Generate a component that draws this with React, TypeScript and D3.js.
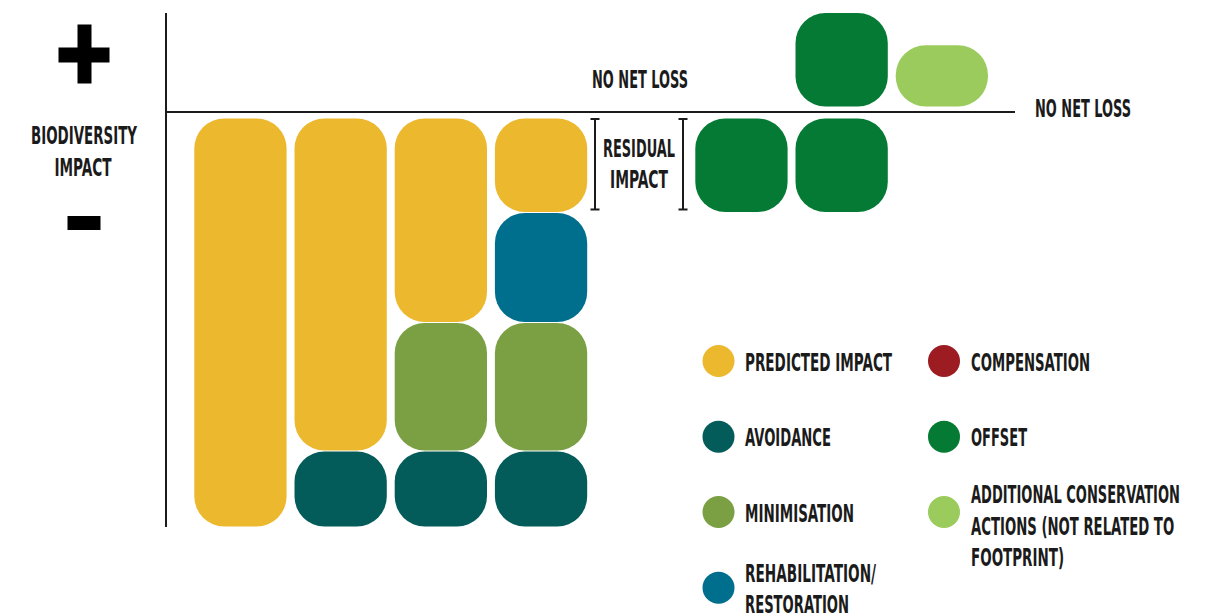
import React, { useLayoutEffect, useRef } from "react";
import * as d3 from "d3";

// ---------- DATA ----------
// Column stages (slot 4 is left empty for the residual-impact label)
const stages = ["Predicted", "Avoid", "Minimise", "Rehabilitate", "Offset", "Offset + gain", "Additional"];
const stageSlots = [0, 1, 2, 3, 5, 6, 7];

// negative side (below NO NET LOSS), stacked from the line downward
const predictedImpact = [10, 8.14, 5.0, 2.31, 0, 0, 0];
const rehabilitation = [0, 0, 0, 2.69, 0, 0, 0];
const minimisation = [0, 0, 3.14, 3.14, 0, 0, 0];
const avoidance = [0, 1.86, 1.86, 1.86, 0, 0, 0];
const offsetBelow = [0, 0, 0, 0, 2.31, 2.31, 0];
// positive side (above NO NET LOSS), stacked from the line upward
const offsetAbove = [0, 0, 0, 0, 0, 2.31, 0];
const additionalActions = [0, 0, 0, 0, 0, 0, 1.52];

const legendLabels = [
  ["PREDICTED IMPACT"],
  ["AVOIDANCE"],
  ["MINIMISATION"],
  ["REHABILITATION/", "RESTORATION"],
  ["COMPENSATION"],
  ["OFFSET"],
  ["ADDITIONAL CONSERVATION", "ACTIONS (NOT RELATED TO", "FOOTPRINT)"],
];
const legendKeys = ["predicted", "avoidance", "minimisation", "rehabilitation", "compensation", "offset", "additional"];

// ---------- STYLE / LAYOUT ----------
const colors: Record<string, string> = {
  predicted: "#ECB82E",
  avoidance: "#035B5A",
  minimisation: "#7BA043",
  rehabilitation: "#006F8E",
  compensation: "#9C1C21",
  offset: "#047A34",
  additional: "#9BCB5D",
};
const FONT = "'Liberation Sans Narrow', 'DejaVu Sans Condensed', 'Arial Narrow', sans-serif";
const INK = "#1b1b1b";

const legendLayout = [
  { x: 745, cx: 718.5, cy: 361, w: [147], dy: 9.7 },
  { x: 745, cx: 718.5, cy: 436.7, w: [86], dy: 9.7 },
  { x: 745, cx: 718.5, cy: 512, w: [109], dy: 9.7 },
  { x: 745, cx: 718.5, cy: 587.7, w: [131, 104], dy: -6.2 },
  { x: 971, cx: 944, cy: 361, w: [119], dy: 9.7 },
  { x: 971, cx: 944, cy: 436.7, w: [56], dy: 9.7 },
  { x: 971, cx: 944, cy: 512, w: [209, 203, 93], dy: -8.7 },
];
const LINE_H = 31.4;

function Label({ x, y, w, text, size = 25.5 }: { x: number; y: number; w: number; text: string; size?: number }) {
  const ref = useRef<SVGTextElement>(null);
  useLayoutEffect(() => {
    const el = ref.current;
    if (!el) return;
    const n = el.getComputedTextLength();
    const s = n > 0 ? w / n : 1;
    el.setAttribute("transform", `translate(${x},${y}) scale(${s},1)`);
  }, [x, y, w, text, size]);
  return (
    <text
      ref={ref}
      x={0}
      y={0}
      transform={`translate(${x},${y}) scale(0.7,1)`}
      fontFamily={FONT}
      fontWeight={700}
      fontSize={size}
      fill={INK}
    >
      {text}
    </text>
  );
}

export default function App() {
  const W = 1215;
  const H = 615;
  const zeroY = 112;

  const x = d3
    .scaleBand<number>()
    .domain(d3.range(8))
    .range([190.35, 190.35 + 8 * 100.2])
    .paddingInner(0.079)
    .paddingOuter(0.0395);

  const y = d3.scaleLinear().domain([-10, 0, 2.31]).range([521, zeroY, zeroY - 94.5]);
  const negGap = 6;
  const posGap = 5;

  type Block = { key: string; slot: number; y0: number; y1: number; color: string };
  const blocks: Block[] = [];
  const negSeries: [string, number[]][] = [
    ["predicted", predictedImpact],
    ["offset", offsetBelow],
    ["rehabilitation", rehabilitation],
    ["minimisation", minimisation],
    ["avoidance", avoidance],
  ];
  const posSeries: [string, number[]][] = [
    ["offset", offsetAbove],
    ["additional", additionalActions],
  ];
  stages.forEach((_, i) => {
    let acc = 0;
    negSeries.forEach(([k, vals]) => {
      const v = vals[i];
      if (!v) return;
      const top = y(-acc) + negGap;
      const bot = y(-(acc + v)) + negGap;
      blocks.push({ key: k, slot: stageSlots[i], y0: top, y1: bot, color: colors[k] });
      acc += v;
    });
    let accP = 0;
    posSeries.forEach(([k, vals]) => {
      const v = vals[i];
      if (!v) return;
      const bot = y(accP) - posGap;
      const top = y(accP + v) - posGap;
      blocks.push({ key: k, slot: stageSlots[i], y0: top, y1: bot, color: colors[k] });
      accP += v;
    });
  });

  const bw = x.bandwidth();
  const residualTop = y(0) + negGap + 1;
  const residualBot = y(-predictedImpact[3]) + negGap - 3;

  const bracket = (bx: number) => (
    <g stroke={INK} strokeWidth={2} fill="none">
      <line x1={bx} x2={bx} y1={residualTop} y2={residualBot} />
      <line x1={bx - 4.5} x2={bx + 4.5} y1={residualTop} y2={residualTop} />
      <line x1={bx - 4.5} x2={bx + 4.5} y1={residualBot} y2={residualBot} />
    </g>
  );

  return (
    <svg
      width={W}
      height={H}
      viewBox={`0 0 ${W} ${H}`}
      style={{ position: "absolute", left: 0, top: 0, background: "#fff" }}
    >
      {/* blocks */}
      {blocks.map((b, i) => {
        const h = b.y1 - b.y0 - 1;
        const rx = Math.min(30, h / 2);
        return (
          <rect
            key={i}
            x={x(b.slot)!}
            y={b.y0 + 0.5}
            width={bw}
            height={h}
            rx={rx}
            ry={rx}
            fill={b.color}
          />
        );
      })}

      {/* axes */}
      <line x1={166} x2={166} y1={13} y2={527} stroke={INK} strokeWidth={2} />
      <line x1={166} x2={1015} y1={zeroY} y2={zeroY} stroke={INK} strokeWidth={2} />

      {/* plus / minus */}
      <rect x={58.5} y={47.5} width={51} height={15} fill="#000" />
      <rect x={77.5} y={24.5} width={14} height={59} fill="#000" />
      <rect x={67.5} y={216} width={33} height={14} fill="#000" />

      {/* y label */}
      <Label x={31} y={144} w={106} text="BIODIVERSITY" />
      <Label x={54.5} y={175.7} w={57} text="IMPACT" />

      {/* no net loss labels */}
      <Label x={592} y={88} w={96} text="NO NET LOSS" />
      <Label x={1035} y={116.7} w={96} text="NO NET LOSS" />

      {/* residual impact */}
      {bracket(595)}
      {bracket(683)}
      <Label x={603} y={156.7} w={72} text="RESIDUAL" />
      <Label x={610} y={187.7} w={58} text="IMPACT" />

      {/* legend */}
      {legendKeys.map((k, i) => {
        const L = legendLayout[i];
        return (
          <g key={k}>
            <circle cx={L.cx} cy={L.cy} r={16} fill={colors[k]} />
            {legendLabels[i].map((t, j) => (
              <Label key={j} x={L.x} y={L.cy + L.dy + j * LINE_H} w={L.w[j]} text={t} size={24.5} />
            ))}
          </g>
        );
      })}
    </svg>
  );
}
